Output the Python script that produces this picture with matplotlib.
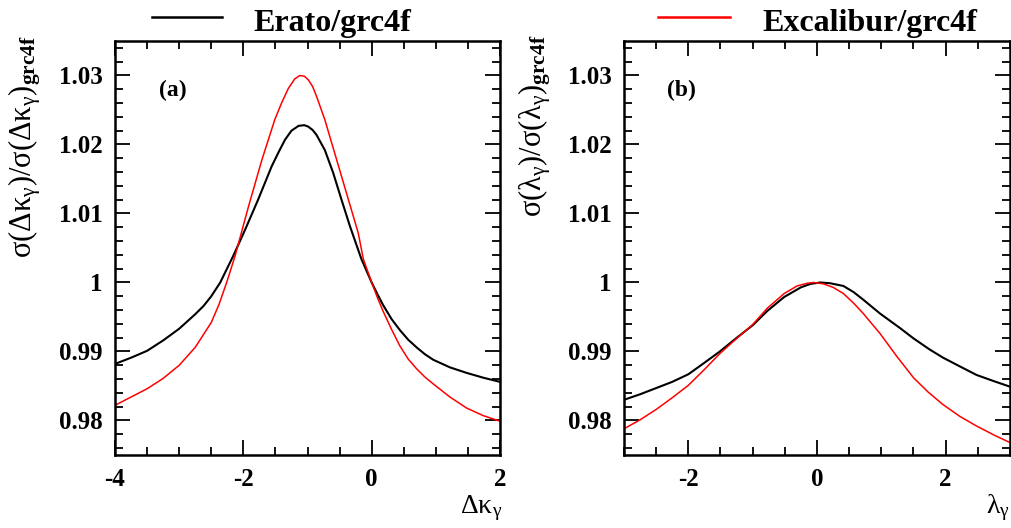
import numpy as np
import matplotlib
matplotlib.use('Agg')
import matplotlib.pyplot as plt
from matplotlib.lines import Line2D
from matplotlib.ticker import MultipleLocator, FixedLocator, FixedFormatter

# sigma ratio vs delta kappa_gamma
dk_erato_x = [-4.0, -3.75, -3.5, -3.25, -3.0, -2.75, -2.62, -2.5, -2.36, -2.16, -1.97, -1.77,
              -1.56, -1.45, -1.35, -1.25, -1.14, -1.05, -0.99, -0.92, -0.86, -0.73, -0.60, -0.47,
              -0.34, -0.16, 0.0, 0.09, 0.18, 0.31, 0.44, 0.57, 0.70, 0.83, 0.96, 1.22, 1.48, 1.74, 2.0]
dk_erato_y = [0.9882, 0.9891, 0.9901, 0.9916, 0.9933, 0.9954, 0.9966, 0.9980, 1.0000, 1.0038, 1.0077, 1.0120,
              1.0168, 1.0189, 1.0207, 1.0220, 1.0227, 1.0228, 1.0226, 1.0221, 1.0214, 1.0192, 1.0159, 1.0120,
              1.0082, 1.0034, 1.0000, 0.9983, 0.9967, 0.9947, 0.9931, 0.9917, 0.9906, 0.9896, 0.9888, 0.9877, 0.9869,
              0.9862, 0.9856]

dk_excal_x = [-4.0, -3.75, -3.5, -3.25, -3.0, -2.75, -2.5, -2.38, -2.26, -2.13, -1.92, -1.71,
              -1.51, -1.40, -1.30, -1.20, -1.12, -1.05, -0.99, -0.92, -0.86, -0.73, -0.60, -0.47,
              -0.34, -0.21, -0.13, 0.0, 0.09, 0.18, 0.31, 0.44, 0.57, 0.70, 0.83, 0.96, 1.22, 1.48,
              1.74, 2.0]
dk_excal_y = [0.9822, 0.9834, 0.9846, 0.9861, 0.9880, 0.9906, 0.9942, 0.9968, 1.0000, 1.0038, 1.0110, 1.0178,
              1.0236, 1.0261, 1.0281, 1.0295, 1.0300, 1.0299, 1.0294, 1.0284, 1.0270, 1.0236, 1.0195, 1.0154,
              1.0113, 1.0072, 1.0034, 1.0000, 0.9978, 0.9958, 0.9932, 0.9908, 0.9889, 0.9875, 0.9863, 0.9853,
              0.9834, 0.9818, 0.9807, 0.9799]

# sigma ratio vs lambda_gamma
lam_erato_x = [-3.0, -2.75, -2.5, -2.25, -2.0, -1.76, -1.51, -1.26, -1.0, -0.77, -0.51,
               -0.25, -0.1, 0.05, 0.2, 0.41, 0.57, 0.72, 0.98, 1.29, 1.5, 1.75, 1.96, 2.25, 2.48,
               2.75, 3.0]
lam_erato_y = [0.9830, 0.9838, 0.9847, 0.9856, 0.9867, 0.9883, 0.9900, 0.9919, 0.9938, 0.9959, 0.9979,
               0.9993, 0.9998, 1.0000, 0.9999, 0.9995, 0.9986, 0.9975, 0.9955, 0.9934, 0.9919, 0.9903,
               0.9891, 0.9877, 0.9866, 0.9857, 0.9849]

lam_excal_x = [-3.0, -2.75, -2.5, -2.25, -2.0, -1.76, -1.51, -1.26, -1.0, -0.77, -0.51,
               -0.31, -0.15, -0.05, 0.1, 0.25, 0.41, 0.57, 0.72, 0.98, 1.24, 1.5, 1.73, 1.96,
               2.22, 2.48, 2.75, 3.0]
lam_excal_y = [0.9788, 0.9801, 0.9816, 0.9833, 0.9851, 0.9873, 0.9897, 0.9918, 0.9939, 0.9963, 0.9984,
               0.9995, 0.9999, 1.0000, 0.9998, 0.9993, 0.9984, 0.9970, 0.9955, 0.9926, 0.9893, 0.9862,
               0.9841, 0.9823, 0.9806, 0.9792, 0.9779, 0.9768]

y_ticks = [0.98, 0.99, 1.0, 1.01, 1.02, 1.03]
y_ticklabels = ['0.98', '0.99', '1', '1.01', '1.02', '1.03']

plt.rcParams['font.family'] = ['Liberation Serif', 'DejaVu Serif']
plt.rcParams['mathtext.fontset'] = 'custom'
plt.rcParams['mathtext.rm'] = 'Liberation Serif'
plt.rcParams['mathtext.it'] = 'Liberation Serif:italic'
plt.rcParams['mathtext.bf'] = 'Liberation Serif:bold'

fig = plt.figure(figsize=(10.12, 5.28), dpi=100)
ax1 = fig.add_axes([115/1012, 73/528, 385/1012, 414/528])
ax2 = fig.add_axes([624/1012, 73/528, 386/1012, 414/528])


def style(ax, xlim, xticks, tag):
    ax.set_xlim(xlim)
    ax.set_ylim(0.975, 1.035)
    ax.xaxis.set_major_locator(FixedLocator(xticks))
    ax.xaxis.set_major_formatter(FixedFormatter(['%d' % t for t in xticks]))
    ax.xaxis.set_minor_locator(MultipleLocator(0.5))
    ax.yaxis.set_major_locator(FixedLocator(y_ticks))
    ax.yaxis.set_major_formatter(FixedFormatter(y_ticklabels))
    ax.yaxis.set_minor_locator(MultipleLocator(0.002))
    ax.tick_params(which='both', direction='in', top=True, right=True, width=1.3)
    ax.tick_params(which='major', length=11)
    ax.tick_params(which='minor', length=6)
    ax.tick_params(axis='y', which='major', pad=9, labelsize=18)
    ax.tick_params(axis='x', which='major', pad=9, labelsize=18)
    for lab in ax.get_xticklabels() + ax.get_yticklabels():
        lab.set_fontweight('bold')
    for s in ax.spines.values():
        s.set_linewidth(1.8)
    ax.text(0.15, 0.88, tag, transform=ax.transAxes, fontsize=17,
            fontweight='bold', ha='center', va='center')


ax1.plot(dk_erato_x, dk_erato_y, color='black', lw=1.5)
ax1.plot(dk_excal_x, dk_excal_y, color='red', lw=1.1)
style(ax1, (-4, 2), [-4, -2, 0, 2], '(a)')

ax2.plot(lam_erato_x, lam_erato_y, color='black', lw=1.5)
ax2.plot(lam_excal_x, lam_excal_y, color='red', lw=1.1)
style(ax2, (-3, 3), [-2, 0, 2], '(b)')

# axis titles
fig.text(502/1012, 1 - 513/528, r'$\mathrm{Δκ_{γ}}$', fontsize=20, ha='right', va='baseline')
fig.text(1010/1012, 1 - 513/528, r'$\mathrm{λ_{γ}}$', fontsize=20, ha='right', va='baseline')
fig.text(25/1012, 1 - 35/528, r'$\mathrm{σ(Δκ_{γ})/σ(Δκ_{γ})_{\mathbf{grc4f}}}$',
         fontsize=22, rotation=90, ha='center', va='top')
fig.text(535/1012, 1 - 35/528, r'$\mathrm{σ(λ_{γ})/σ(λ_{γ})_{\mathbf{grc4f}}}$',
         fontsize=22, rotation=90, ha='center', va='top')

# legend across the top
fig.add_artist(Line2D([152/1012, 222/1012], [1 - 17/528, 1 - 17/528], color='black', lw=1.8))
fig.text(253/1012, 1 - 31/528, 'Erato/grc4f', fontsize=23, fontweight='bold', va='baseline')
fig.add_artist(Line2D([658/1012, 730/1012], [1 - 17/528, 1 - 17/528], color='red', lw=1.8))
fig.text(762/1012, 1 - 31/528, 'Excalibur/grc4f', fontsize=23, fontweight='bold', va='baseline')

plt.savefig('out.png', format='png', dpi=100)
